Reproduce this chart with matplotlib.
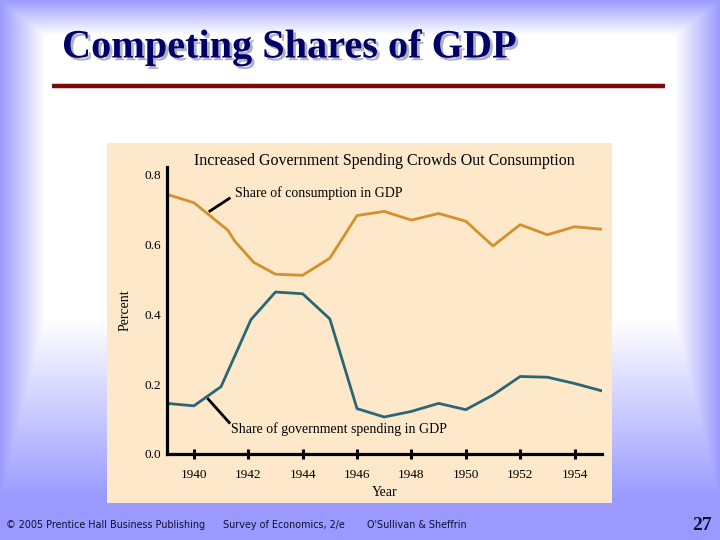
import numpy as np
import matplotlib
matplotlib.use('Agg')
import matplotlib.pyplot as plt
import matplotlib.patheffects as pe
from matplotlib.patches import Rectangle

# data (share of GDP)
cons_years = [1939, 1940, 1941.25, 1941.5, 1942.2, 1943, 1944, 1945, 1946, 1947,
              1948, 1949, 1950, 1951, 1952, 1953, 1954, 1955]
cons_share = [0.744, 0.720, 0.641, 0.610, 0.549, 0.515, 0.512, 0.561, 0.683, 0.695,
              0.670, 0.689, 0.667, 0.596, 0.657, 0.628, 0.651, 0.644]
gov_years = [1939, 1940, 1941, 1942.1, 1943, 1944, 1945, 1946, 1947, 1948,
             1949, 1950, 1951, 1952, 1953, 1954, 1955]
gov_share = [0.145, 0.138, 0.193, 0.385, 0.464, 0.459, 0.387, 0.130, 0.106, 0.122,
             0.145, 0.127, 0.169, 0.222, 0.220, 0.202, 0.181]
x_ticks = [1940, 1942, 1944, 1946, 1948, 1950, 1952, 1954]
y_ticks = [0.0, 0.2, 0.4, 0.6, 0.8]

W, H = 720, 540
fig = plt.figure(figsize=(7.2, 5.4), dpi=100)

# slide background: white centre fading to blue at the edges
xx, yy = np.meshgrid(np.arange(W) + 0.5, np.arange(H) + 0.5)
f = np.maximum.reduce([
    np.clip(1 - yy / 35, 0, 1),
    np.clip(1 - xx / 45, 0, 1),
    np.clip(1 - (W - xx) / 45, 0, 1),
    np.clip((yy - 320) / 180, 0, 1),
])
blue = np.array([0.60, 0.60, 1.0])
img = (1 - f)[..., None] * np.ones(3) + f[..., None] * blue
bg = fig.add_axes([0, 0, 1, 1], zorder=-10)
bg.imshow(img, aspect='auto', extent=[0, W, H, 0])
bg.set_xlim(0, W)
bg.set_ylim(H, 0)
bg.axis('off')

# slide title with a soft grey drop shadow
fig.text(62 / W, 1 - 48 / H, 'Competing Shares of GDP', fontsize=29, fontweight='bold',
         family='Liberation Serif', color='#000066', va='center', ha='left',
         path_effects=[pe.withSimplePatchShadow(offset=(2, -2), shadow_rgbFace='#b0b0c8',
                                                alpha=1.0)])
bg.plot([52, 665], [85.5, 85.5], color='#7a0a0a', lw=3.2, solid_capstyle='butt')

# cream panel behind the chart
bg.add_patch(Rectangle((107, 143), 505, 360, facecolor='#fde9c9', edgecolor='none'))

# footer
foot = dict(fontsize=6.9, family='DejaVu Sans', color='#101030', va='center')
fig.text(6 / W, 1 - 525 / H, '© 2005 Prentice Hall Business Publishing', **foot)
fig.text(223 / W, 1 - 525 / H, 'Survey of Economics, 2/e', **foot)
fig.text(367 / W, 1 - 525 / H, "O'Sullivan & Sheffrin", **foot)
fig.text(712 / W, 1 - 526 / H, '27', fontsize=14, fontweight='bold',
         family='Liberation Serif', color='#101030', va='center', ha='right')

# chart
x0, x1, y0, y1 = 166.7, 601.7, 454, 166.7
ax = fig.add_axes([x0 / W, 1 - y0 / H, (x1 - x0) / W, (y0 - y1) / H])
ax.set_facecolor('none')
ax.plot(cons_years, cons_share, color='#d4902c', lw=2.0)
ax.plot(gov_years, gov_share, color='#2c6674', lw=2.0)
ax.set_xlim(1939, 1955)
ax.set_ylim(0, 0.823)

serif = 'Liberation Serif'
for s in ['top', 'right']:
    ax.spines[s].set_visible(False)
for s in ['left', 'bottom']:
    ax.spines[s].set_linewidth(2.3)
ax.set_xticks(x_ticks)
ax.set_yticks(y_ticks)
ax.set_yticklabels([f'{v:.1f}' for v in y_ticks])
ax.tick_params(axis='x', direction='inout', length=7.5, width=2.2, pad=7,
               labelsize=9.5)
ax.tick_params(axis='y', length=0, pad=4, labelsize=9.5)
for lab in ax.get_xticklabels() + ax.get_yticklabels():
    lab.set_family(serif)
ax.set_xlabel('Year', family=serif, fontsize=10, labelpad=4)
ax.set_ylabel('Percent', family=serif, fontsize=10, labelpad=9)

ax.text(0.5, 1.02, 'Increased Government Spending Crowds Out Consumption',
        transform=ax.transAxes, family=serif, fontsize=11.5, ha='center', va='center')

# leader labels
ax.plot([1940.59, 1941.30], [0.696, 0.732], color='black', lw=2)
ax.text(1941.5, 0.748, 'Share of consumption in GDP', family=serif, fontsize=10,
        va='center', ha='left')
ax.plot([1940.53, 1941.30], [0.157, 0.090], color='black', lw=2)
ax.text(1941.38, 0.071, 'Share of government spending in GDP', family=serif,
        fontsize=10, va='center', ha='left')

fig.savefig('out.png', dpi=100)
